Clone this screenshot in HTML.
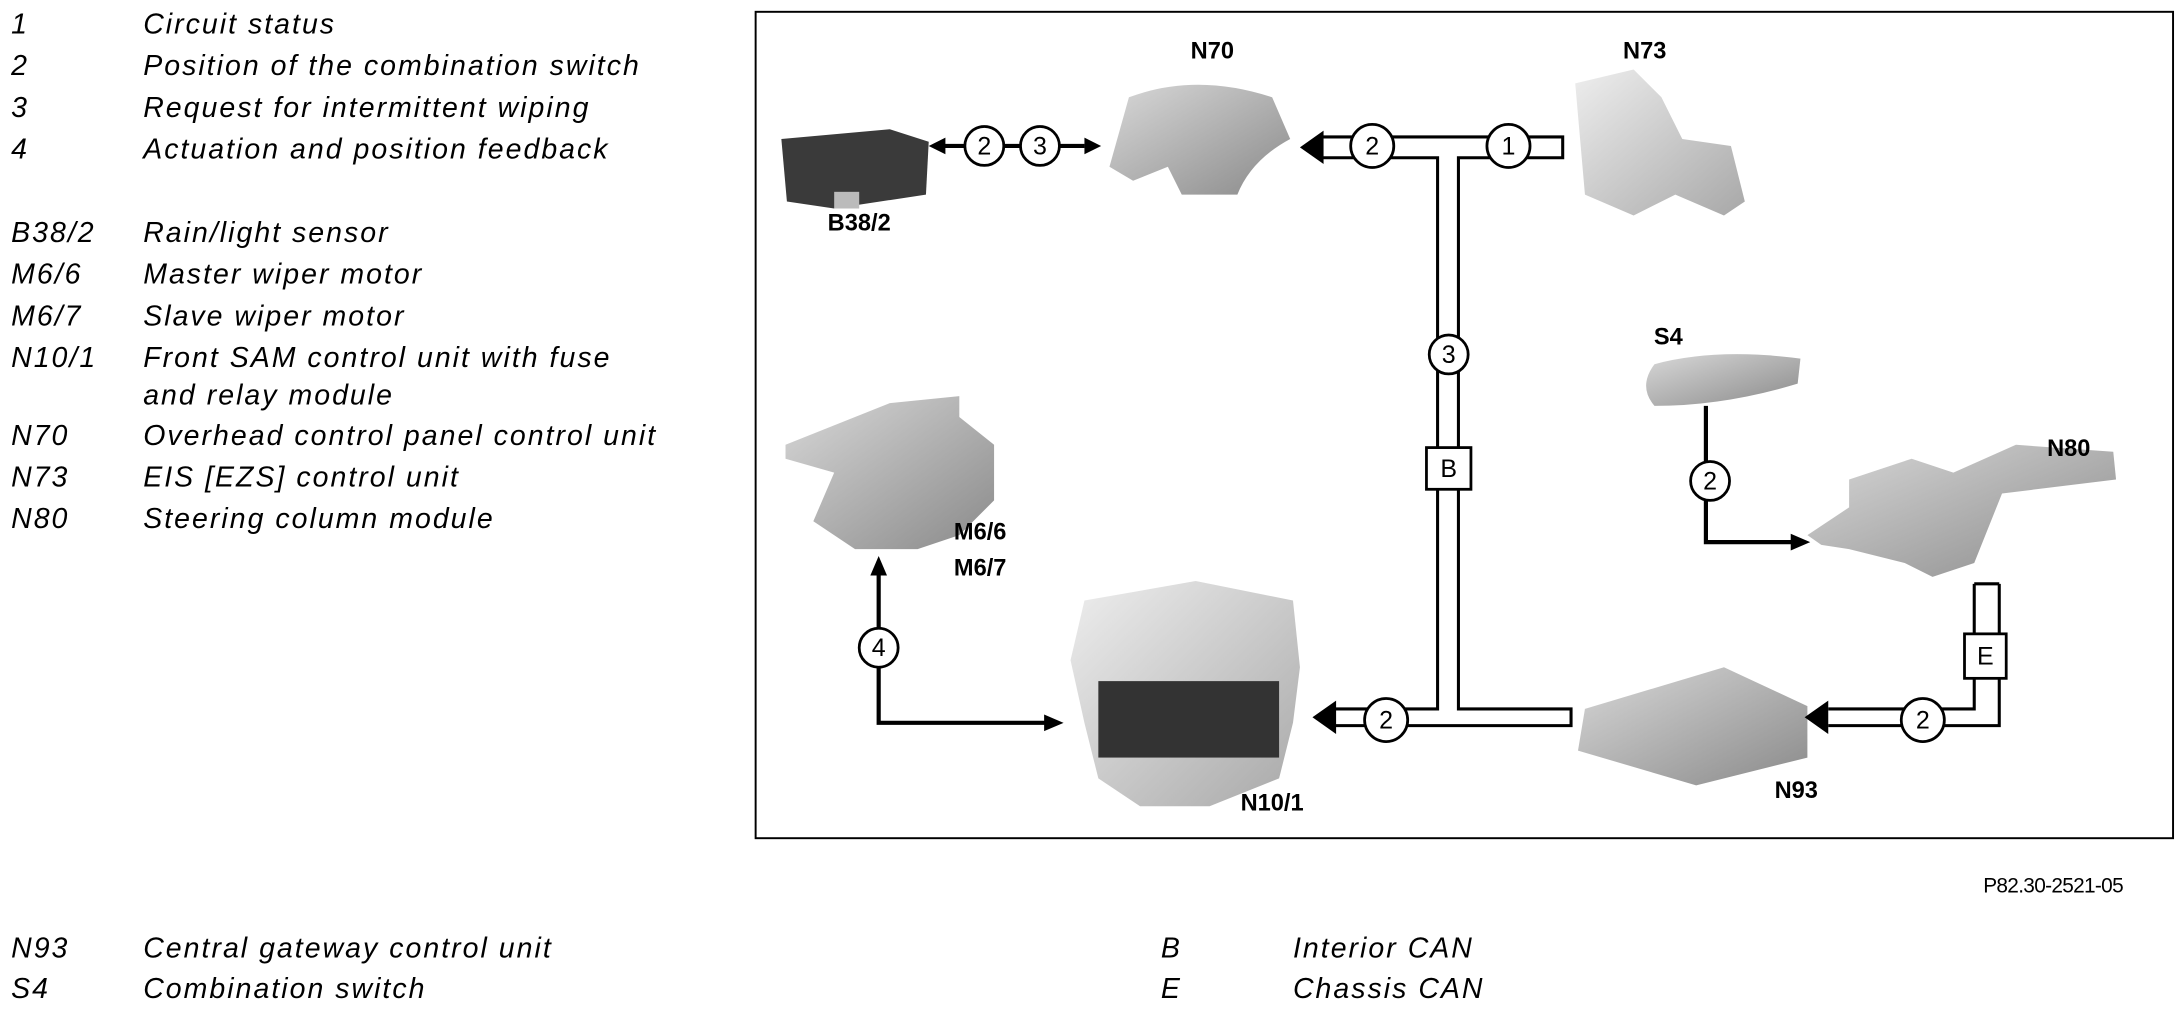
<!DOCTYPE html>
<html><head><meta charset="utf-8"><style>
html,body{margin:0;padding:0;background:#fff;}
svg{display:block;}
.lg{font-family:"Liberation Sans",sans-serif;font-style:italic;font-size:20.5px;letter-spacing:1.45px;fill:#000;}
.lb{font-family:"Liberation Sans",sans-serif;font-weight:bold;font-size:17px;fill:#000;}
.cn{font-family:"Liberation Sans",sans-serif;font-size:18px;fill:#000;text-anchor:middle;}
</style></head><body>
<svg width="2180" height="1010" viewBox="0 0 1568 726.6" preserveAspectRatio="none" xmlns="http://www.w3.org/2000/svg">
<defs>
<linearGradient id="g1" x1="0" y1="0" x2="1" y2="1"><stop offset="0" stop-color="#d8d8d8"/><stop offset="1" stop-color="#8a8a8a"/></linearGradient>
<linearGradient id="g2" x1="0" y1="0" x2="1" y2="1"><stop offset="0" stop-color="#eeeeee"/><stop offset="1" stop-color="#a8a8a8"/></linearGradient>
</defs>
<g class="lg">
<text x="8" y="24">1</text><text x="103" y="24">Circuit status</text>
<text x="8" y="54">2</text><text x="103" y="54">Position of the combination switch</text>
<text x="8" y="84">3</text><text x="103" y="84">Request for intermittent wiping</text>
<text x="8" y="114">4</text><text x="103" y="114">Actuation and position feedback</text>
<text x="8" y="174">B38/2</text><text x="103" y="174">Rain/light sensor</text>
<text x="8" y="204">M6/6</text><text x="103" y="204">Master wiper motor</text>
<text x="8" y="234">M6/7</text><text x="103" y="234">Slave wiper motor</text>
<text x="8" y="264">N10/1</text><text x="103" y="264">Front SAM control unit with fuse</text>
<text x="103" y="291">and relay module</text>
<text x="8" y="320">N70</text><text x="103" y="320">Overhead control panel control unit</text>
<text x="8" y="350">N73</text><text x="103" y="350">EIS [EZS] control unit</text>
<text x="8" y="380">N80</text><text x="103" y="380">Steering column module</text>
<text x="8" y="689">N93</text><text x="103" y="689">Central gateway control unit</text>
<text x="8" y="718">S4</text><text x="103" y="718">Combination switch</text>
<text x="835" y="689">B</text><text x="930" y="689">Interior CAN</text>
<text x="835" y="718">E</text><text x="930" y="718">Chassis CAN</text>
</g>
<text x="1527" y="642" text-anchor="end" font-family="Liberation Sans,sans-serif" font-size="15" letter-spacing="-0.5">P82.30-2521-05</text>
<rect x="543.5" y="8.5" width="1019.5" height="594.5" fill="none" stroke="#000" stroke-width="1.4"/>
<path d="M562 100 L640 93 L668 102 L666 140 L600 150 L566 145 Z" fill="#3a3a3a"/>
<rect x="600" y="138" width="18" height="12" fill="#bbb"/>
<path d="M812 70 Q860 52 915 70 L928 100 Q900 115 890 140 L850 140 L840 120 L815 130 L798 120 Z" fill="url(#g1)"/>
<path d="M1133 60 L1175 50 L1195 70 L1210 100 L1245 105 L1255 145 L1240 155 L1205 140 L1175 155 L1140 140 Z" fill="url(#g2)"/>
<path d="M1190 262 Q1235 250 1295 258 L1293 276 Q1240 292 1190 292 Q1178 278 1190 262 Z" fill="url(#g1)"/>
<path d="M1330 345 L1375 330 L1405 340 L1450 320 L1520 325 L1522 345 L1440 355 L1420 405 L1390 415 L1370 405 L1330 395 L1310 392 L1300 385 L1330 365 Z" fill="url(#g1)"/>
<path d="M565 320 L640 290 L690 285 L690 300 L715 320 L715 360 L690 385 L660 395 L615 395 L585 375 L600 340 L565 330 Z" fill="url(#g1)"/>
<path d="M780 432 L860 418 L930 432 L935 480 L930 520 L920 560 L870 580 L820 580 L790 560 L780 520 L770 475 Z" fill="url(#g2)"/>
<rect x="790" y="490" width="130" height="55" fill="#333"/>
<path d="M1140 510 L1240 480 L1300 508 L1300 545 L1220 565 L1135 540 Z" fill="url(#g1)"/>
<g class="lb" text-anchor="middle">
<text x="872" y="42">N70</text><text x="1183" y="42">N73</text><text x="618" y="166">B38/2</text>
<text x="1200" y="248">S4</text><text x="1488" y="328">N80</text>
<text x="705" y="388">M6/6</text><text x="705" y="414">M6/7</text>
<text x="915" y="583">N10/1</text><text x="1292" y="574">N93</text>
</g>
<g fill="none" stroke="#000" stroke-width="2.2">
<path d="M950 98.5 H1124 V113.5 H1049 V510 H1130 V522 H955"/>
<path d="M950 113.5 H1034 V510 H955"/>
<path d="M1420 420 V510 H1315"/>
<path d="M1438 420 V522 H1315"/>
<path d="M1420 420 H1438"/>
</g>
<polygon points="935,106 952,94 952,118" fill="#000"/>
<polygon points="944,516 961,504 961,528" fill="#000"/>
<polygon points="1298,516 1315,504 1315,528" fill="#000"/>
<g stroke="#000" stroke-width="3" fill="none">
<path d="M678 105 H780"/>
<path d="M1227 292 V390 H1290"/>
<path d="M632 412 V520 H755"/>
</g>
<polygon points="668,105 680,99 680,111" fill="#000"/>
<polygon points="792,105 780,99 780,111" fill="#000"/>
<polygon points="1302,390 1288,384 1288,396" fill="#000"/>
<polygon points="765,520 751,514 751,526" fill="#000"/>
<polygon points="632,400 626,414 638,414" fill="#000"/>
<g fill="#fff" stroke="#000" stroke-width="2">
<circle cx="708" cy="105" r="14"/><circle cx="748" cy="105" r="14"/>
<circle cx="987" cy="105" r="15.5"/><circle cx="1085" cy="105" r="15.5"/>
<circle cx="1042" cy="255" r="14"/>
<circle cx="1230" cy="346" r="14"/>
<circle cx="997" cy="518" r="15.5"/><circle cx="1383" cy="518" r="15.5"/>
<circle cx="632" cy="466" r="14"/>
<rect x="1026" y="322" width="32" height="30"/>
<rect x="1413" y="456" width="30" height="32"/>
</g>
<g class="cn">
<text x="708" y="111">2</text><text x="748" y="111">3</text>
<text x="987" y="111">2</text><text x="1085" y="111">1</text>
<text x="1042" y="261">3</text><text x="1230" y="352">2</text>
<text x="997" y="524">2</text><text x="1383" y="524">2</text>
<text x="632" y="472">4</text>
<text x="1042" y="343">B</text><text x="1428" y="478">E</text>
</g>
</svg>
</body></html>
